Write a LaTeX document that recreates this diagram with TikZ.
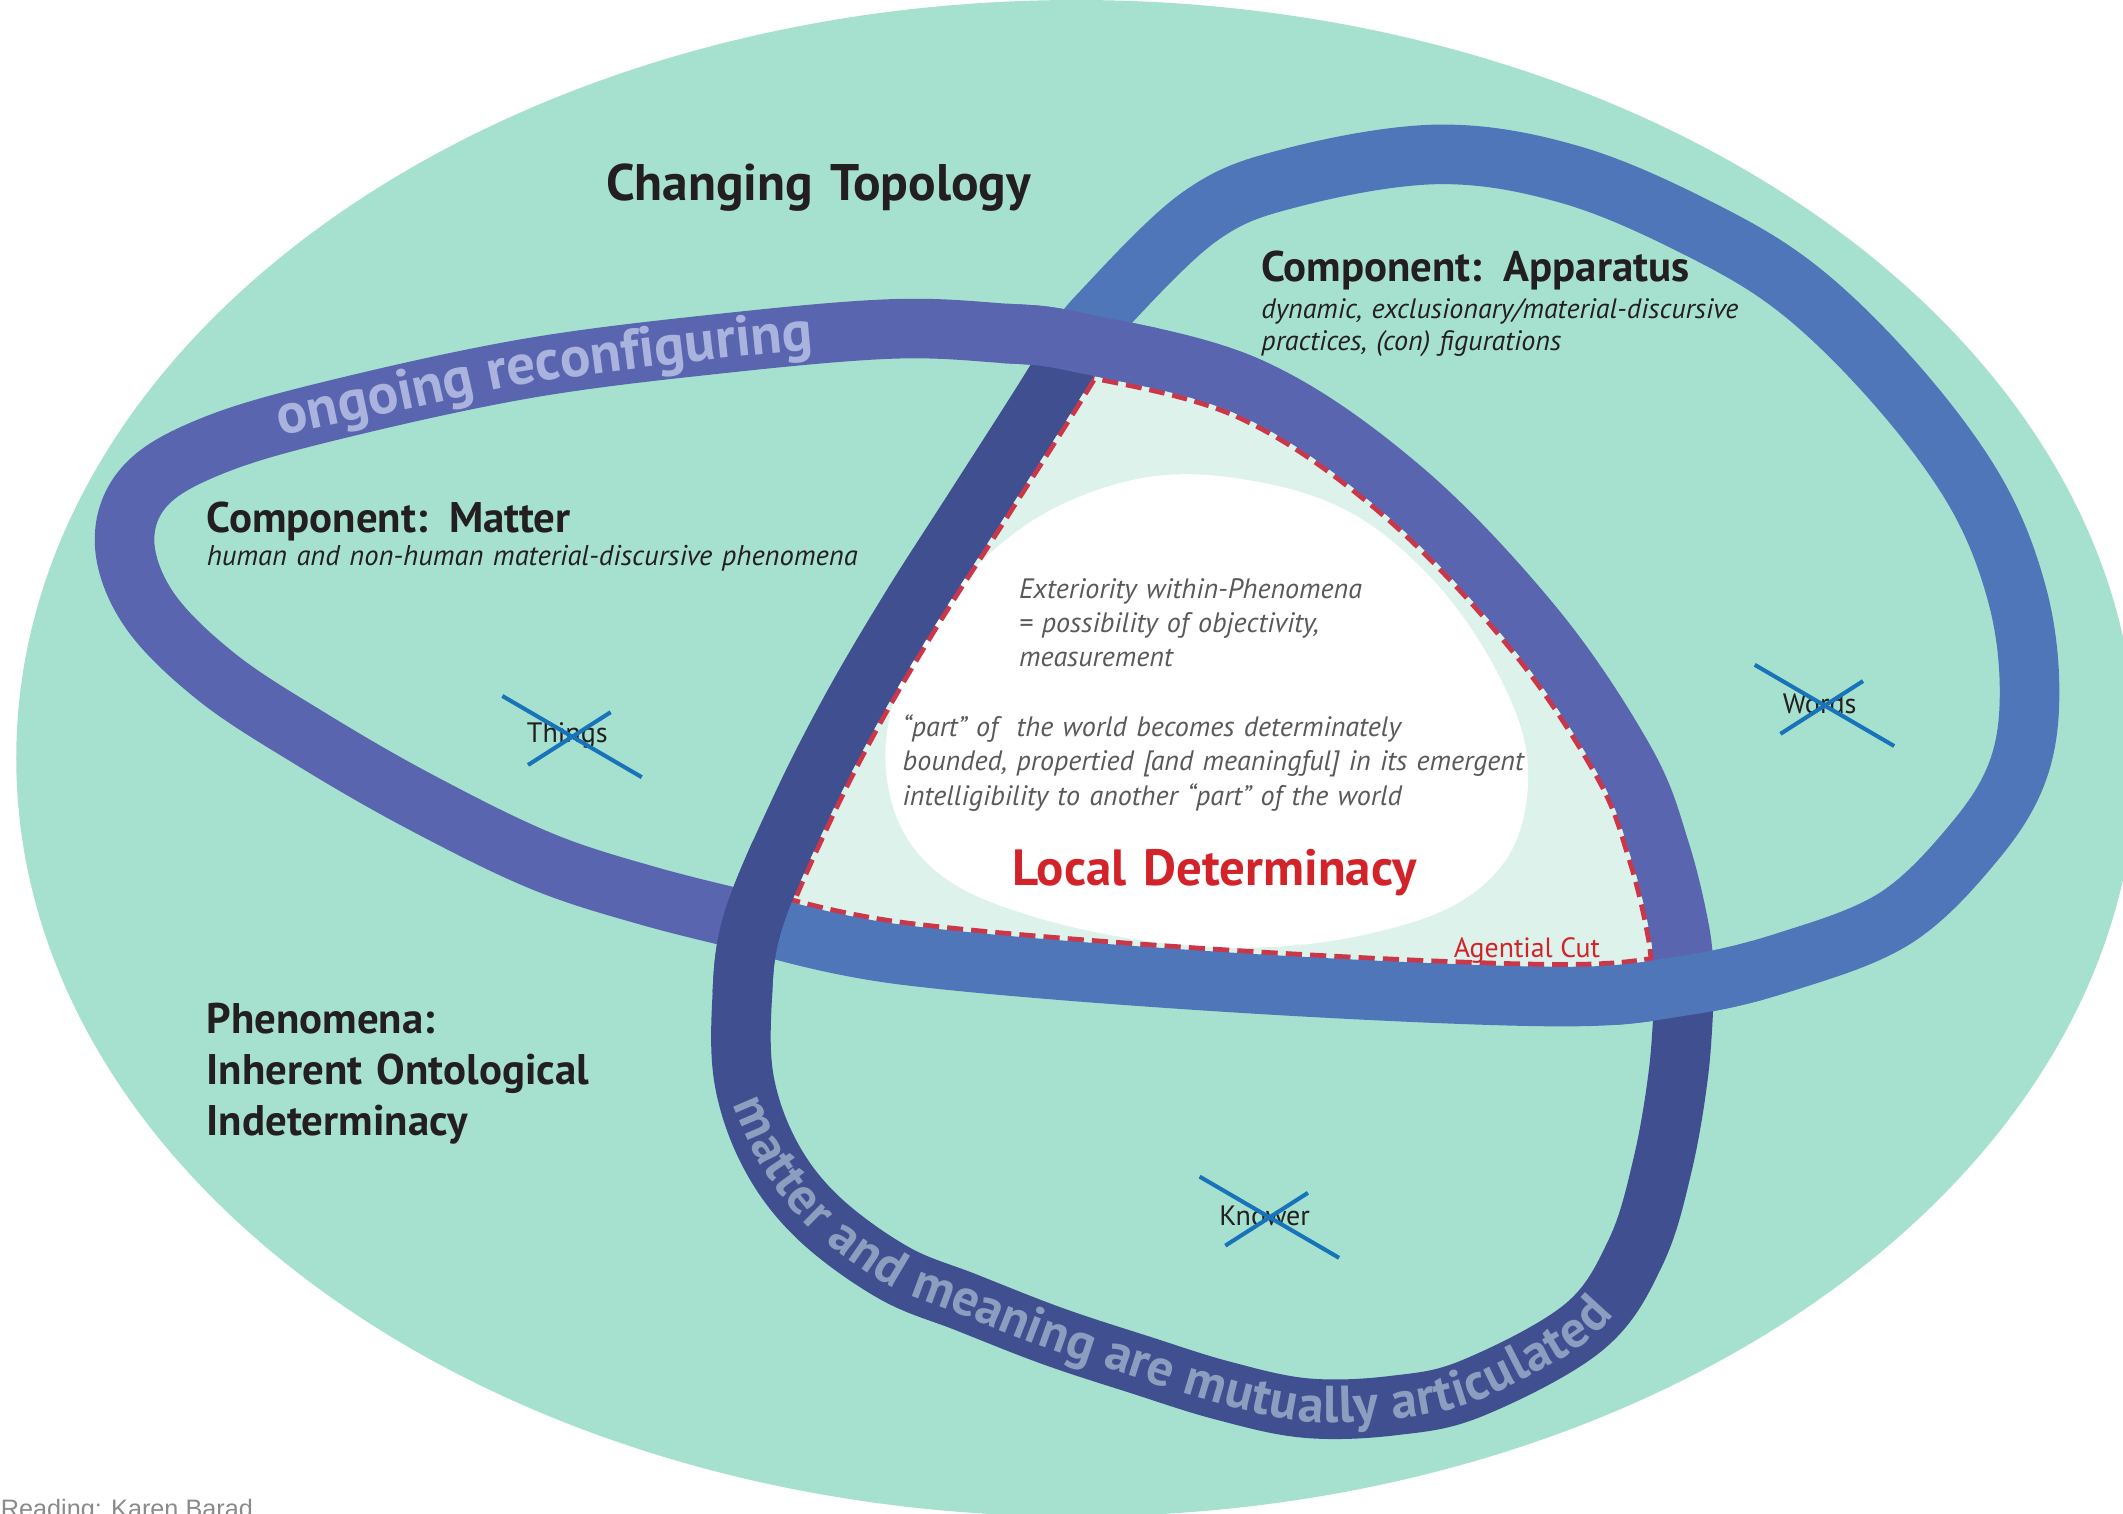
\documentclass[tikz,border=0pt]{standalone}
\usepackage{fontspec}
\setmainfont{PT Sans}
\newfontfamily\readfont{Liberation Sans}
\usetikzlibrary{decorations.text}

\definecolor{topobg}{HTML}{A6E1CF}
\definecolor{cutmint}{HTML}{DCF2EA}
\definecolor{mattercol}{HTML}{5966AF}
\definecolor{appcol}{HTML}{4F76B9}
\definecolor{knowcol}{HTML}{404F8F}
\definecolor{ongoingcol}{HTML}{A9B3DE}
\definecolor{articcol}{HTML}{8C9EBF}
\definecolor{inkblack}{HTML}{231F20}
\definecolor{greytext}{HTML}{58595B}
\definecolor{cutred}{HTML}{D2232A}
\definecolor{dashred}{HTML}{CB3748}
\definecolor{strikeblue}{HTML}{1873B9}
\definecolor{readgrey}{HTML}{8A8A8A}

% centre lines of the three lobes (one coordinate = one pixel)
\newcommand\matterpath{plot[smooth, tension=0.6] coordinates {(1244,728) (1241,690) (1226,628) (1200,562) (1133,463) (1034,360) (923,286) (797,253) (739,246) (657,243) (530,254) (390,272) (250,302) (160,328) (108,358) (92,400) (110,450) (160,500) (230,546) (310,592) (400,636) (480,662) (556,681)}}
\newcommand\apppath{plot[smooth, tension=0.6] coordinates {(556,681) (665,705) (900,725) (1145,736) (1244,728) (1320,710) (1400,678) (1458,622) (1490,570) (1499,511) (1490,440) (1460,365) (1403,287) (1330,215) (1255,169) (1160,129) (1063,114) (955,131) (886,160) (811,233) (797,253)}}
\newcommand\knowpath{plot[smooth, tension=0.6] coordinates {(797,253) (768,300) (720,375) (672,450) (628,525) (590,600) (556,681) (548,740) (550,800) (570,855) (605,900) (660,940) (714,962) (778,987) (842,1008) (903,1027) (965,1040) (1030,1038) (1088,1025) (1170,980) (1208,925) (1228,860) (1240,790) (1244,728)}}
\newcommand\cutregion{(797,253) -- (768,300) -- (720,375) -- (672,450) -- (628,525) -- (590,600) -- (556,681) -- (665,705) -- (900,725) -- (1145,736) -- (1244,728) -- (1241,690) -- (1226,628) -- (1200,562) -- (1133,463) -- (1034,360) -- (923,286) -- cycle}

\tikzset{
band/.style={line width=4.4mm, line cap=butt, line join=round},
mband/.style={band, draw=mattercol},
aband/.style={band, draw=appcol},
kband/.style={band, draw=knowcol},
cutline/.style={line width=5.1mm, draw=dashred, dash pattern=on 1.2mm off 0.6mm},
heading/.style={anchor=base west, inner sep=0, text=inkblack,
  font=\bfseries\fontsize{9}{10.8}\selectfont, text width=60mm, align=left},
subline/.style={anchor=base west, inner sep=0, text=inkblack,
  font=\itshape\fontsize{5.9}{6.8}\selectfont, text width=60mm, align=left},
greynote/.style={anchor=base west, inner sep=0, text=greytext,
  font=\itshape\fontsize{5.9}{7.2}\selectfont, text width=60mm, align=left},
thing/.style={inner sep=0, text=inkblack, font=\fontsize{5.9}{6}\selectfont},
strike/.style={draw=strikeblue, line width=0.3mm}
}

\begin{document}
\begin{tikzpicture}[x=0.1mm, y=-0.1mm]
\useasboundingbox (0,0) rectangle (1568,1118);
\clip (0,0) rectangle (1568,1118);

% the phenomenon
\fill[topobg] (795,560) ellipse (783 and 560);

% the cut, in the middle of the knot
\fill[cutmint] \cutregion;
\fill[white] plot[smooth cycle, tension=0.6] coordinates {(850,352) (930,356) (1000,380) (1060,430) (1105,495) (1128,560) (1118,625) (1075,668) (1000,692) (920,700) (840,694) (760,676) (700,650) (665,610) (654,555) (668,495) (705,435) (770,380)};
\begin{scope}
\clip \cutregion;
\draw[cutline] \matterpath;
\draw[cutline] \apppath;
\draw[cutline] \knowpath;
\end{scope}

% the three lobes
\draw[mband] \matterpath;
\draw[aband] \apppath;
\draw[kband] \knowpath;
% over-crossings
\begin{scope}
\clip (797,253) circle (60);
\draw[mband] \matterpath;
\end{scope}
\begin{scope}
\clip (556,681) circle (60);
\draw[kband] \knowpath;
\end{scope}
\begin{scope}
\clip (1244,728) circle (60);
\draw[aband] \apppath;
\end{scope}

% text on the bands
\path[decorate, decoration={text along path, text color=ongoingcol, raise=-1.1mm,
  text={|\bfseries\fontsize{12}{12}\selectfont|ongoing reconfiguring}}]
  plot[smooth] coordinates {(205,311) (300,291) (390,272) (530,254) (657,243) (739,246)};
\path[decorate, decoration={text along path, text color=articcol, raise=-1mm,
  text={|\bfseries\fontsize{10.9}{11}\selectfont|matter and meaning are mutually articulated}}]
  plot[smooth] coordinates {(550,812) (570,855) (605,900) (660,940) (714,962) (778,987) (842,1008) (903,1027) (965,1040) (1030,1038) (1088,1025) (1170,980) (1208,925) (1228,860)};

% labels
\node[heading, font=\bfseries\fontsize{10.8}{12}\selectfont] (title) at (447,148) {Changing Topology};
\node[heading] (apphead) at (931,208) {Component: Apparatus};
\node[subline] (appsub) at (931,235) {dynamic, exclusionary/material-discursive\\practices, (con) figurations};
\node[heading] (mathead) at (152,393) {Component: Matter};
\node[subline, font=\itshape\fontsize{6}{6.8}\selectfont] (matsub) at (152,418) {human and non-human material-discursive phenomena};
\node[heading] (phen) at (152,763) {Phenomena:\\Inherent Ontological\\Indeterminacy};
\node[greynote] (exterior) at (752,442) {Exteriority within-Phenomena\\= possibility of objectivity,\\measurement};
\node[greynote, text width=70mm] (partof) at (666,544) {``part'' of\ \ the world becomes determinately\\bounded, propertied [and meaningful] in its emergent\\intelligibility to another ``part'' of the world};
\node[heading, text=cutred, font=\bfseries\fontsize{10.7}{11}\selectfont] (localdet) at (747,654) {Local Determinacy};
\node[anchor=base west, inner sep=0, text=cutred, font=\fontsize{5.85}{6}\selectfont] (agcut) at (1073,707) {Agential Cut};
\node[anchor=base west, inner sep=0, text=readgrey, font=\readfont\fontsize{5.3}{6}\selectfont] (reading) at (0,1121) {Reading: Karen Barad};

% crossed-out positions
\node[thing] (things) at (419,543) {Things};
\node[thing] (words) at (1344,520) {Words};
\node[thing] (knower) at (934,898) {Knower};
\foreach \n in {things,words,knower}{
  \draw[strike] ([shift={(-48,-29)}]\n.center) -- ([shift={(55,31)}]\n.center);
  \draw[strike] ([shift={(-29,22)}]\n.center) -- ([shift={(32,-17)}]\n.center);
}
\end{tikzpicture}
\end{document}
